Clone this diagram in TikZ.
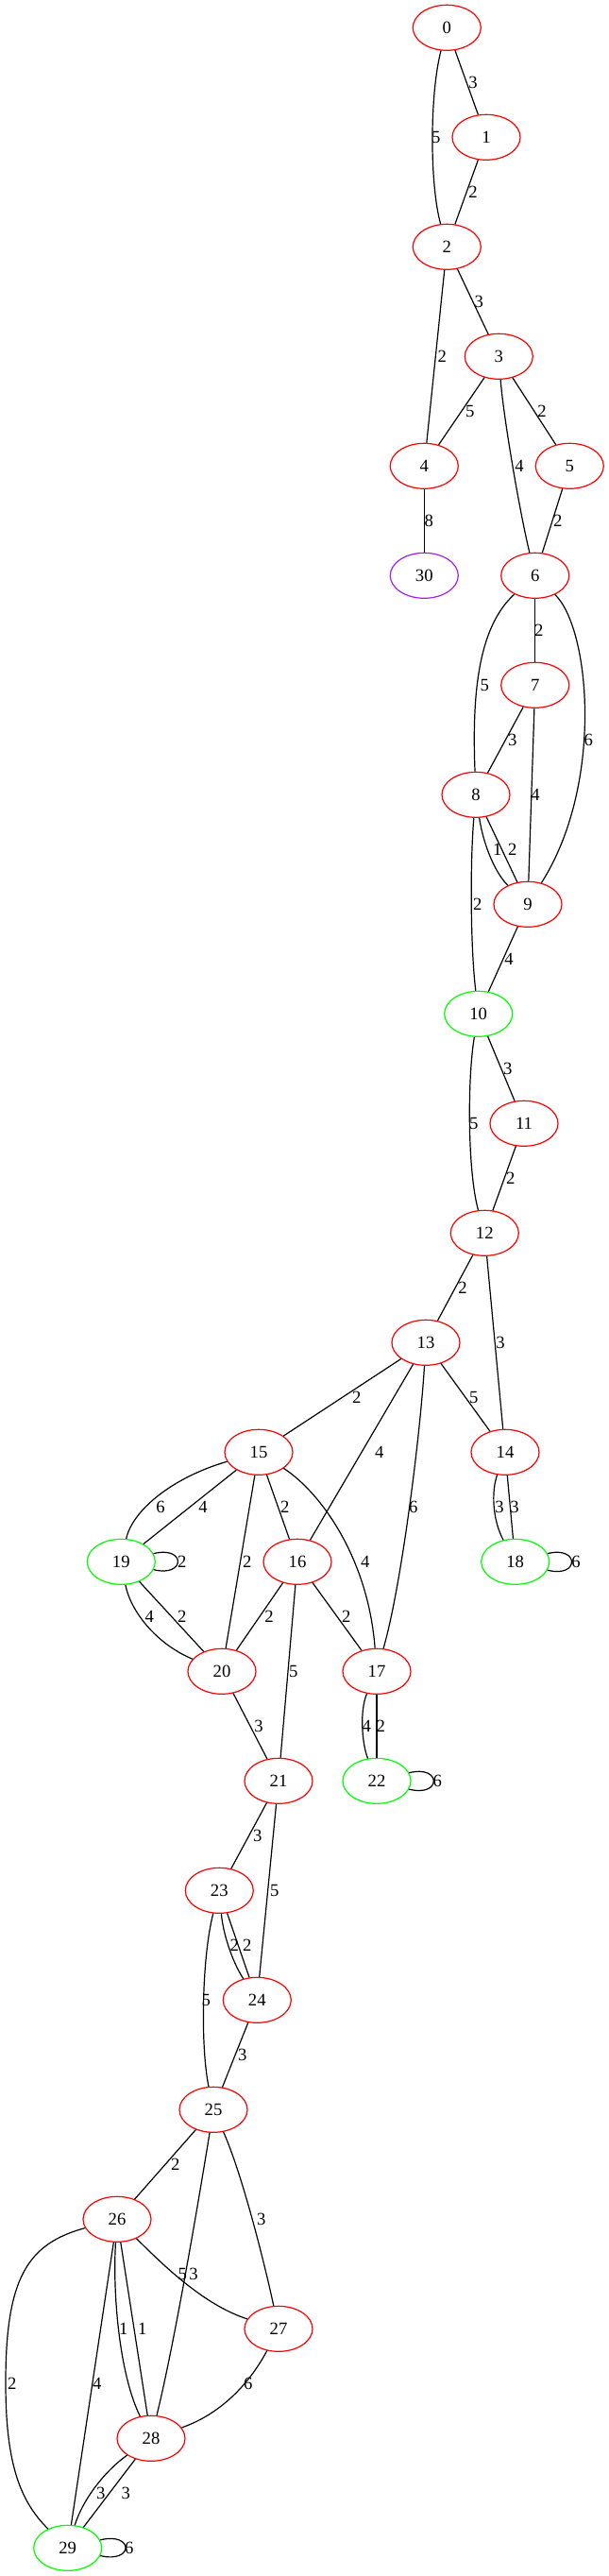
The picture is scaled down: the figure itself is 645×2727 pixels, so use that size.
\documentclass[tikz,border=0pt]{standalone}
\usepackage{fontspec}
\setmainfont{Liberation Serif}
\usetikzlibrary{shapes.geometric}
\definecolor{gvgreen}{RGB}{0,255,0}
\definecolor{gvpurple}{RGB}{160,32,240}
\begin{document}
\begin{tikzpicture}[x=0.75pt,y=-0.75pt,
  vtx/.style={ellipse,draw=red,line width=0.9pt,minimum width=54pt,minimum height=36pt,inner sep=0pt,font=\fontsize{14}{16}\selectfont},
  gvtx/.style={vtx,draw=gvgreen},
  pvtx/.style={vtx,draw=gvpurple},
  elab/.style={inner sep=0pt,font=\fontsize{14}{16}\selectfont},
  conn/.style={line width=0.9pt,black}]
\useasboundingbox (0,0) rectangle (645,2727);
% nodes
\node[vtx] (n0) at (473.3,29.3) {0};
\node[vtx] (n1) at (515,145.3) {1};
\node[vtx] (n2) at (473.3,261.3) {2};
\node[vtx] (n3) at (528.3,377.3) {3};
\node[vtx] (n4) at (449.3,493.3) {4};
\node[vtx] (n5) at (603.3,493.3) {5};
\node[pvtx] (n30) at (449.3,609.3) {30};
\node[vtx] (n6) at (566.7,609.3) {6};
\node[vtx] (n7) at (566.7,725.3) {7};
\node[vtx] (n8) at (504,841.3) {8};
\node[vtx] (n9) at (559,957.3) {9};
\node[gvtx] (n10) at (506.7,1073.3) {10};
\node[vtx] (n11) at (555,1189.3) {11};
\node[vtx] (n12) at (513.3,1305.3) {12};
\node[vtx] (n13) at (451,1421.3) {13};
\node[vtx] (n14) at (535,1537.3) {14};
\node[vtx] (n15) at (274,1537.3) {15};
\node[vtx] (n16) at (315,1653.3) {16};
\node[gvtx] (n18) at (545.7,1653.3) {18};
\node[gvtx] (n19) at (128.3,1653.3) {19};
\node[vtx] (n20) at (235,1769.3) {20};
\node[vtx] (n17) at (399,1769.3) {17};
\node[vtx] (n21) at (295,1885.3) {21};
\node[gvtx] (n22) at (399,1885.3) {22};
\node[vtx] (n23) at (232.3,2001.3) {23};
\node[vtx] (n24) at (272.3,2117.3) {24};
\node[vtx] (n25) at (226,2233.3) {25};
\node[vtx] (n26) at (124,2349.3) {26};
\node[vtx] (n27) at (295,2465.3) {27};
\node[vtx] (n28) at (160,2581.3) {28};
\node[gvtx] (n29) at (71.7,2697.3) {29};
% edges
\draw[conn] (n0) -- (n1);
\draw[conn] (n0) .. controls (455,100) and (455,195) .. (n2);
\draw[conn] (n1) -- (n2);
\draw[conn] (n2) -- (n3);
\draw[conn] (n2) -- (n4);
\draw[conn] (n3) -- (n4);
\draw[conn] (n3) -- (n5);
\draw[conn] (n3) .. controls (533,440) and (550,540) .. (n6);
\draw[conn] (n5) -- (n6);
\draw[conn] (n4) -- (n30);
\draw[conn] (n6) -- (n7);
\draw[conn] (n6) .. controls (505,665) and (500,740) .. (n8);
\draw[conn] (n6) .. controls (625,665) and (640,830) .. (n9);
\draw[conn] (n7) -- (n8);
\draw[conn] (n7) -- (n9);
\draw[conn] (n8) .. controls (512,895) and (525,925) .. (n9);
\draw[conn] (n8) -- (n9);
\draw[conn] (n8) .. controls (498,910) and (498,1000) .. (n10);
\draw[conn] (n9) -- (n10);
\draw[conn] (n10) -- (n11);
\draw[conn] (n10) .. controls (495,1140) and (495,1240) .. (n12);
\draw[conn] (n11) -- (n12);
\draw[conn] (n12) -- (n13);
\draw[conn] (n12) -- (n14);
\draw[conn] (n13) -- (n15);
\draw[conn] (n13) -- (n14);
\draw[conn] (n13) -- (n16);
\draw[conn] (n13) .. controls (445,1520) and (425,1680) .. (n17);
\draw[conn] (n14) .. controls (520,1580) and (522,1610) .. (n18);
\draw[conn] (n14) -- (n18);
\draw[conn] (n18) .. controls (614,1636) and (614,1671) .. (n18);
\draw[conn] (n15) .. controls (180,1565) and (140,1600) .. (n19);
\draw[conn] (n15) -- (n19);
\draw[conn] (n19) .. controls (197,1636) and (197,1670) .. (n19);
\draw[conn] (n15) -- (n16);
\draw[conn] (n15) -- (n20);
\draw[conn] (n15) .. controls (340,1580) and (390,1650) .. (n17);
\draw[conn] (n19) .. controls (138,1705) and (165,1740) .. (n20);
\draw[conn] (n19) -- (n20);
\draw[conn] (n16) -- (n20);
\draw[conn] (n16) -- (n17);
\draw[conn] (n16) -- (n21);
\draw[conn] (n17) .. controls (381,1810) and (383,1845) .. (n22);
\draw[conn] (n17) -- (n22);
\draw[conn] (n22) .. controls (468,1868) and (468,1903) .. (n22);
\draw[conn] (n20) -- (n21);
\draw[conn] (n21) -- (n23);
\draw[conn] (n21) -- (n24);
\draw[conn] (n23) .. controls (236,2045) and (245,2075) .. (n24);
\draw[conn] (n23) -- (n24);
\draw[conn] (n23) .. controls (214,2070) and (212,2165) .. (n25);
\draw[conn] (n24) -- (n25);
\draw[conn] (n25) -- (n26);
\draw[conn] (n25) .. controls (256,2300) and (280,2395) .. (n27);
\draw[conn] (n25) .. controls (212,2320) and (185,2480) .. (n28);
\draw[conn] (n26) .. controls (170,2395) and (215,2440) .. (n27);
\draw[conn] (n26) .. controls (119,2430) and (127,2515) .. (n28);
\draw[conn] (n26) -- (n28);
\draw[conn] (n27) .. controls (265,2522) and (235,2555) .. (n28);
\draw[conn] (n26) .. controls (30,2375) and (6,2410) .. (6,2522) .. controls (6,2600) and (18,2645) .. (n29);
\draw[conn] (n26) -- (n29);
\draw[conn] (n28) .. controls (112,2615) and (88,2645) .. (n29);
\draw[conn] (n28) -- (n29);
\draw[conn] (n29) .. controls (142,2680) and (142,2714) .. (n29);
% edge labels
\node[elab] (l0_1) at (501,87.3) {3};
\node[elab] (l0_2) at (461.7,145.3) {5};
\node[elab] (l1_2) at (501,203.3) {2};
\node[elab] (l2_3) at (507.3,319.3) {3};
\node[elab] (l2_4) at (468.3,377.3) {2};
\node[elab] (l3_4) at (497.7,435.3) {5};
\node[elab] (l3_5) at (574,435.3) {2};
\node[elab] (l3_6) at (550,493.3) {4};
\node[elab] (l5_6) at (590.7,551.3) {2};
\node[elab] (l4_30) at (454.3,551.3) {8};
\node[elab] (l6_7) at (570.7,667.3) {2};
\node[elab] (l6_8) at (513.3,725.3) {5};
\node[elab] (l6_9) at (623.3,783.3) {6};
\node[elab] (l7_8) at (542.7,783.3) {3};
\node[elab] (l7_9) at (567,841.3) {4};
\node[elab] (l8_9a) at (526.7,899.3) {1};
\node[elab] (l8_9b) at (542.7,899.3) {2};
\node[elab] (l8_10) at (505.7,957.3) {2};
\node[elab] (l9_10) at (539,1015.3) {4};
\node[elab] (l10_11) at (537.7,1131.3) {3};
\node[elab] (l10_12) at (501.7,1189.3) {5};
\node[elab] (l11_12) at (540.7,1247.3) {2};
\node[elab] (l12_13) at (490,1363.3) {2};
\node[elab] (l12_14) at (530,1421.3) {3};
\node[elab] (l13_15) at (377.7,1479.3) {2};
\node[elab] (l13_14) at (501.7,1479.3) {5};
\node[elab] (l13_16) at (401.7,1537.3) {4};
\node[elab] (l13_17) at (437.7,1595.3) {6};
\node[elab] (l14_18a) at (529,1595.3) {3};
\node[elab] (l14_18b) at (545,1595.3) {3};
\node[elab] (l18) at (610,1653.3) {6};
\node[elab] (l15_19a) at (170,1595.3) {6};
\node[elab] (l15_19b) at (215,1595.3) {4};
\node[elab] (l15_16) at (301.7,1595.3) {2};
\node[elab] (l19) at (192.7,1653.3) {2};
\node[elab] (l15_20) at (261.7,1653.3) {2};
\node[elab] (l15_17) at (386.7,1653.3) {4};
\node[elab] (l19_20a) at (158.3,1711.3) {4};
\node[elab] (l19_20b) at (192.7,1711.3) {2};
\node[elab] (l16_20) at (285,1711.3) {2};
\node[elab] (l16_17) at (366.7,1711.3) {2};
\node[elab] (l16_21) at (310.7,1769.3) {5};
\node[elab] (l17_22a) at (388.3,1827.3) {4};
\node[elab] (l17_22b) at (403.3,1827.3) {2};
\node[elab] (l20_21) at (274,1827.3) {3};
\node[elab] (l22) at (463.3,1885.3) {6};
\node[elab] (l21_23) at (272.7,1943.3) {3};
\node[elab] (l21_24) at (290.7,2001.3) {5};
\node[elab] (l23_24a) at (248.3,2059.3) {2};
\node[elab] (l23_24b) at (261.7,2059.3) {2};
\node[elab] (l23_25) at (218.3,2117.3) {5};
\node[elab] (l24_25) at (256.7,2175.3) {3};
\node[elab] (l25_26) at (185.7,2291.3) {2};
\node[elab] (l25_27) at (276.7,2349.3) {3};
\node[elab] (l26_27) at (193.3,2407.3) {5};
\node[elab] (l25_28) at (205,2407.3) {3};
\node[elab] (l26_28a) at (130.7,2465.3) {1};
\node[elab] (l26_28b) at (150.7,2465.3) {1};
\node[elab] (l27_28) at (262.7,2523.3) {6};
\node[elab] (l26_29a) at (12.7,2523.3) {2};
\node[elab] (l26_29b) at (102.7,2523.3) {4};
\node[elab] (l28_29a) at (106.7,2639.3) {3};
\node[elab] (l28_29b) at (133.3,2639.3) {3};
\node[elab] (l29) at (136.7,2697.3) {6};
\end{tikzpicture}
\end{document}
